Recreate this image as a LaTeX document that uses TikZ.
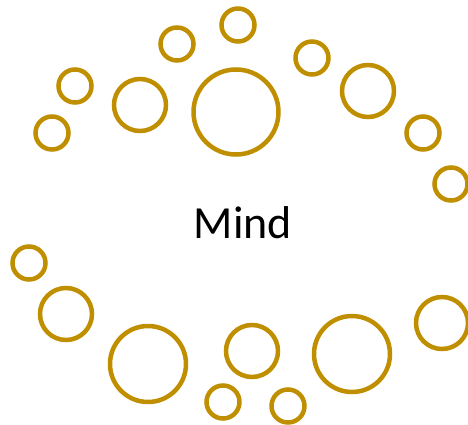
\documentclass[tikz,border=0pt]{standalone}
\usepackage{fontspec}
\setmainfont{Carlito}
\usepackage{tikz}
\definecolor{gold}{RGB}{191,143,0}

\begin{document}
\begin{tikzpicture}[x=1pt,y=-1pt,
 bubble/.style={draw=gold,line width=4.5pt,circle,inner sep=0pt},
 tiny/.style={bubble,minimum size=33pt},
 mid/.style={bubble,minimum size=52pt},
 big/.style={bubble,minimum size=76pt}]
\useasboundingbox (0,0) rectangle (468,425);
% upper arc
\node[tiny] (t1) at (238,25) {};
\node[tiny] (t2) at (177,44) {};
\node[tiny] (t3) at (75,86) {};
\node[tiny] (t4) at (52,133) {};
\node[mid] (m1) at (140,105) {};
\node[bubble,minimum size=85pt] (core) at (236,112) {};
\node[tiny] (t5) at (312,58) {};
\node[mid] (m2) at (368,91) {};
\node[tiny] (t6) at (423,133) {};
\node[tiny] (t7) at (451,184) {};
% lower arc
\node[tiny] (b1) at (29,263) {};
\node[mid] (m3) at (66,314) {};
\node[big] (g1) at (148,364) {};
\node[mid] (m4) at (252,351) {};
\node[tiny] (b2) at (223,402) {};
\node[tiny] (b3) at (288,406) {};
\node[big] (g2) at (352,354) {};
\node[mid] (m5) at (442,323) {};
% label
\node[font=\fontsize{46}{52}\selectfont] (mind) at (243,223) {Mind};
\end{tikzpicture}
\end{document}
